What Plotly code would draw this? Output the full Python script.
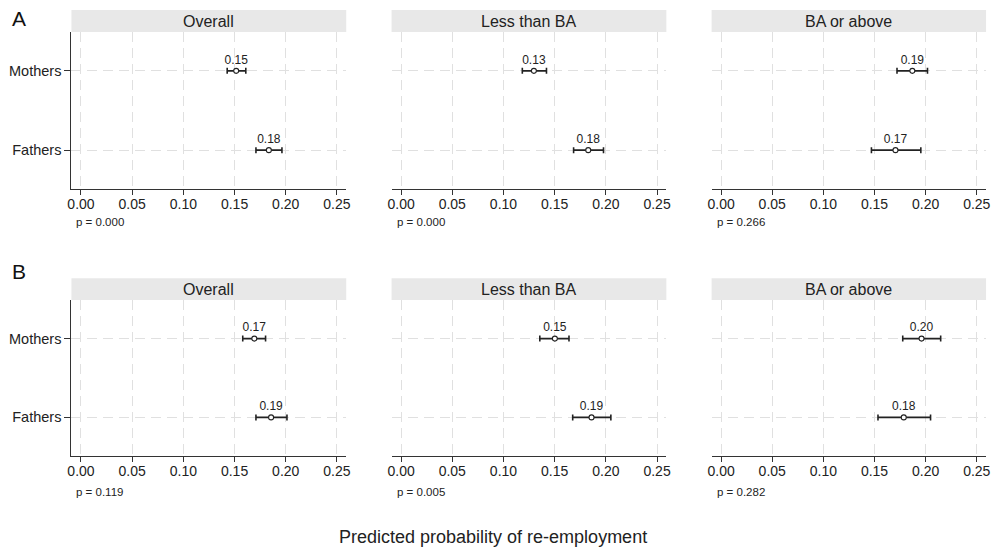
import plotly.graph_objects as go
from plotly.subplots import make_subplots

# Predicted probabilities of re-employment with 95% confidence intervals
groups = ["Mothers", "Fathers"]
panels = ["Overall", "Less than BA", "BA or above"]
panel_letters = ["A", "B"]

# Row A
a_est = [[0.1516, 0.1835], [0.1297, 0.1828], [0.1870, 0.1705]]
a_lo = [[0.1428, 0.1709], [0.1184, 0.1685], [0.1720, 0.1470]]
a_hi = [[0.1610, 0.1963], [0.1420, 0.1977], [0.2018, 0.1953]]
a_p = ["p = 0.000", "p = 0.000", "p = 0.266"]

# Row B
b_est = [[0.1693, 0.1857], [0.1502, 0.1860], [0.1960, 0.1786]]
b_lo = [[0.1580, 0.1709], [0.1355, 0.1676], [0.1776, 0.1534]]
b_hi = [[0.1803, 0.2012], [0.1640, 0.2049], [0.2147, 0.2048]]
b_p = ["p = 0.119", "p = 0.005", "p = 0.282"]

x_ticks = [0.00, 0.05, 0.10, 0.15, 0.20, 0.25]
x_title = "Predicted probability of re-employment"

FONT = "Liberation Sans, Arial, Helvetica, sans-serif"
W, H = 1000, 549

fig = make_subplots(rows=2, cols=3)

col_px = [(68, 345), (390.7, 667.7), (713.3, 990)]
row_px = [(32, 189), (300, 456)]
strip_px = [(10, 32), (278.3, 300)]

rows_data = [(a_est, a_lo, a_hi, a_p), (b_est, b_lo, b_hi, b_p)]

ypos = list(range(len(groups)))
shapes = []
annotations = []

for r, (est, lo, hi, pv) in enumerate(rows_data):
    y0p, y1p = row_px[r]
    for c in range(3):
        idx = r * 3 + c + 1
        e = est[c]
        plus = [h - m for h, m in zip(hi[c], e)]
        minus = [m - l for m, l in zip(e, lo[c])]
        fig.add_trace(
            go.Scatter(
                x=e,
                y=ypos,
                mode="markers+text",
                text=[f"{v:.2f}" for v in e],
                textposition="top center",
                textfont=dict(family=FONT, size=12, color="#222"),
                marker=dict(symbol="circle", size=5, color="white",
                            line=dict(color="#222", width=1.1)),
                error_x=dict(type="data", symmetric=False, array=plus,
                             arrayminus=minus, color="#222", thickness=1.6,
                             width=3),
                showlegend=False,
                cliponaxis=False,
                hoverinfo="skip",
            ),
            row=r + 1, col=c + 1,
        )
        x0p, x1p = col_px[c]
        xa = "xaxis" if idx == 1 else f"xaxis{idx}"
        ya = "yaxis" if idx == 1 else f"yaxis{idx}"
        fig.layout[xa].update(
            domain=[x0p / W, x1p / W],
            range=[-0.0093, 0.2591],
            tickvals=x_ticks,
            ticktext=[f"{t:.2f}" for t in x_ticks],
            showline=True, linecolor="#333", linewidth=1.3,
            ticks="outside", ticklen=5, tickcolor="#333", tickwidth=1.2,
            ticklabelstandoff=-3,
            tickfont=dict(family=FONT, size=14, color="#222"),
            showgrid=True, gridcolor="#e0e0e0", gridwidth=1,
            griddash="10px,6px", zeroline=False, mirror=False,
        )
        fig.layout[ya].update(
            domain=[1 - y1p / H, 1 - y0p / H],
            range=[1.49, -0.49],
            tickvals=ypos,
            ticktext=groups,
            showticklabels=(c == 0),
            showline=(c == 0), linecolor="#333", linewidth=1.3,
            ticks="outside" if c == 0 else "", ticklen=6,
            tickcolor="#333", tickwidth=1.2,
            tickfont=dict(family=FONT, size=14.5, color="#222"),
            showgrid=True, gridcolor="#e0e0e0", gridwidth=1,
            griddash="10px,6px", zeroline=False,
        )
        # facet strip
        s0, s1 = strip_px[r]
        shapes.append(dict(type="rect", xref="paper", yref="paper",
                           x0=x0p / W, x1=x1p / W,
                           y0=1 - s1 / H, y1=1 - s0 / H,
                           fillcolor="#e8e8e8", line=dict(width=0),
                           layer="below"))
        annotations.append(dict(text=panels[c], xref="paper", yref="paper",
                                x=(x0p + x1p) / 2 / W, y=1 - (s0 + s1) / 2 / H,
                                xanchor="center", yanchor="middle",
                                showarrow=False,
                                font=dict(family=FONT, size=16, color="#222")))
        # p-value note under each panel
        p_y = 221.7 if r == 0 else 491.7
        annotations.append(dict(text=pv[c], xref="paper", yref="paper",
                                x=(x0p + 3) / W, y=1 - p_y / H,
                                xanchor="left", yanchor="middle",
                                showarrow=False,
                                font=dict(family=FONT, size=11.5, color="#222")))

# panel letters
for r, letter in enumerate(panel_letters):
    ly = 19 if r == 0 else 271
    annotations.append(dict(text=letter, xref="paper", yref="paper",
                            x=15 / W, y=1 - ly / H, xanchor="center",
                            yanchor="middle", showarrow=False,
                            font=dict(family=FONT, size=21, color="#111")))

annotations.append(dict(text=x_title, xref="paper", yref="paper",
                        x=493 / W, y=1 - 537 / H, xanchor="center",
                        yanchor="middle", showarrow=False,
                        font=dict(family=FONT, size=18, color="#222")))

fig.update_layout(
    width=W, height=H,
    margin=dict(l=0, r=0, t=0, b=0),
    paper_bgcolor="white", plot_bgcolor="white",
    shapes=shapes, annotations=annotations,
    showlegend=False,
)

fig.write_html("out.html")
